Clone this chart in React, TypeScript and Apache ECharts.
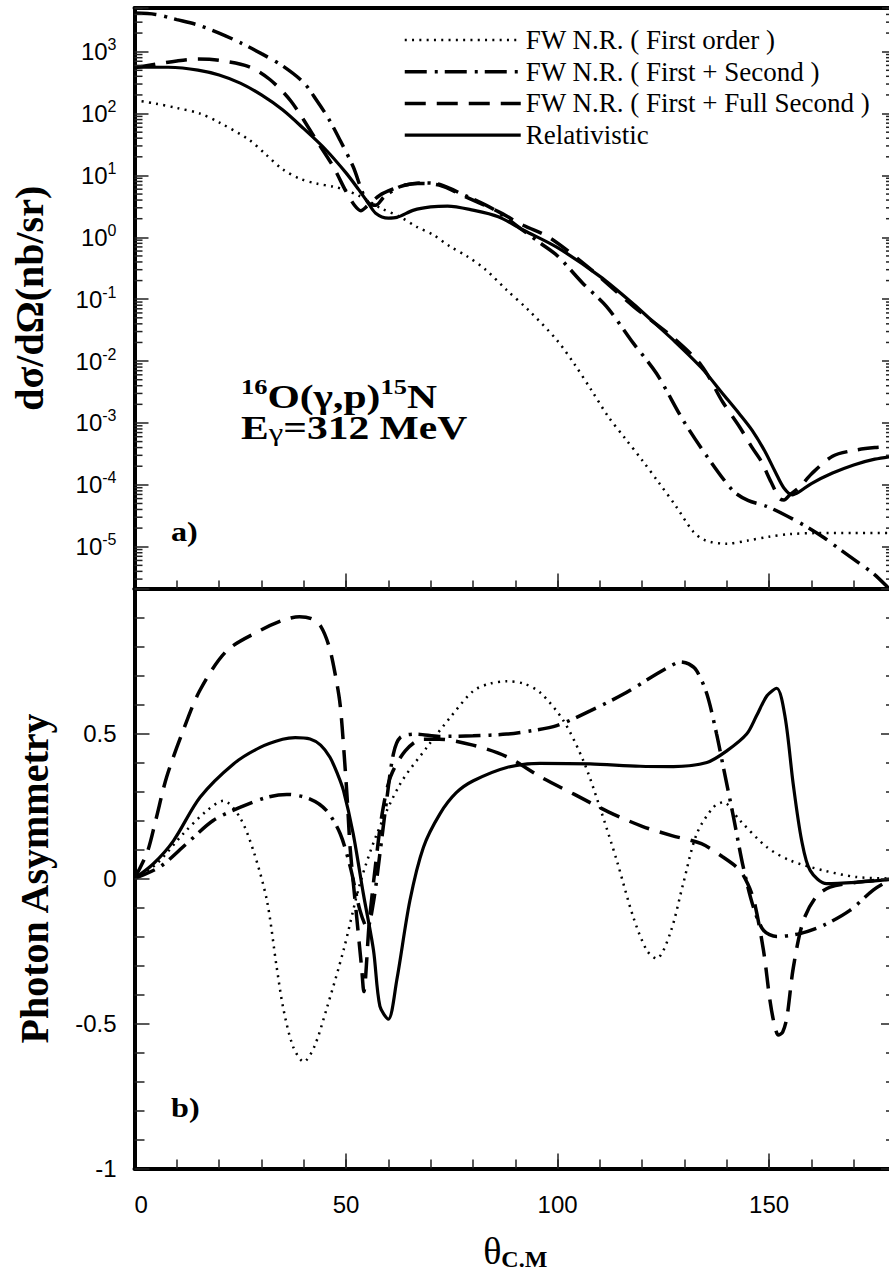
import React, { useEffect, useRef } from "react";
import * as echarts from "echarts";

// ---------- legend / series names ----------
const seriesNames = [
  "FW N.R. ( First order )",
  "FW N.R. ( First + Second )",
  "FW N.R. ( First + Full Second )",
  "Relativistic",
];

// ---------- panel a) differential cross section (nb/sr) ----------
const thetaFirstTop = [0, 5, 10, 15.5, 20, 27, 31, 35, 39, 43, 47, 50, 53, 55, 58, 62.8, 66.7, 70.6, 74.6, 78.5, 83, 88, 93, 99.8, 104, 108, 112, 116, 120, 124, 128, 132, 135, 140, 145, 150, 155, 161, 170, 180];
const sigmaFirst = [165, 145, 123, 100, 72, 38, 22, 12.6, 8.9, 7.4, 6.6, 5.8, 4.7, 4.0, 3.0, 2.14, 1.48, 1.1, 0.71, 0.5, 0.3, 0.14, 0.068, 0.022, 8.9e-3, 3.4e-3, 1.26e-3, 5.6e-4, 2.5e-4, 1.07e-4, 4.5e-5, 1.78e-5, 1.26e-5, 1.12e-5, 1.26e-5, 1.45e-5, 1.6e-5, 1.66e-5, 1.66e-5, 1.66e-5];

const thetaSecTop = [0, 5, 10, 15, 20, 25, 30, 35, 40, 43, 46, 48.6, 51.7, 54, 55.5, 57, 59, 62.8, 68, 72, 78, 85, 92.7, 96, 100, 106, 111.6, 117.9, 123.4, 129.7, 135.3, 141.5, 145, 149.4, 154, 158.9, 163, 166.9, 170.7, 174.6, 177.8, 180];
const sigmaSec = [4200, 4000, 3300, 2700, 2000, 1400, 930, 590, 316, 166, 80, 37, 13.8, 5.1, 3.5, 3.3, 4.5, 6.6, 7.6, 7.2, 4.8, 2.8, 1.17, 0.8, 0.5, 0.18, 0.076, 0.0195, 6.3e-3, 1.1e-3, 2.9e-4, 8e-5, 5.6e-5, 4.5e-5, 3.2e-5, 2.1e-5, 1.4e-5, 8.9e-6, 5.8e-6, 3.7e-6, 2.3e-6, 1.6e-6];

const thetaFullTop = [0, 5, 10, 15, 20, 27, 32, 37, 43, 47, 50, 52, 53.5, 55, 58, 61, 64, 67, 72, 78, 86, 92, 98, 107, 118, 127, 134, 139, 143, 146, 148, 150.5, 152.5, 153.5, 155, 157.3, 160, 165, 170, 175, 180];
const sigmaFull = [550, 630, 710, 760, 725, 575, 355, 158, 37, 13.8, 5.5, 3.3, 2.7, 3.2, 4.8, 6.0, 7.0, 7.4, 7.0, 4.6, 2.6, 1.55, 1.0, 0.34, 0.076, 0.025, 8.5e-3, 2.2e-3, 8.7e-4, 4e-4, 2.5e-4, 1.1e-4, 6e-5, 5.7e-5, 7e-5, 9.3e-5, 1.5e-4, 2.9e-4, 3.6e-4, 4e-4, 4.2e-4];

const thetaRelTop = [0, 8, 15, 20, 25, 30, 35, 40, 45, 50, 53, 55, 57, 60, 62, 66, 70, 74, 80, 86, 92, 100, 110, 118, 122, 127, 134, 139, 143, 146, 149, 151.5, 153.5, 155.5, 157, 160, 165, 170, 175, 180];
const sigmaRel = [565, 560, 505, 420, 310, 200, 115, 57, 27, 11, 5.9, 3.8, 2.46, 2.05, 2.1, 2.75, 3.1, 3.2, 2.75, 2.15, 1.3, 0.68, 0.234, 0.083, 0.047, 0.023, 7.8e-3, 3.0e-3, 1.4e-3, 7.6e-4, 3.5e-4, 1.6e-4, 8.9e-5, 6.9e-5, 7.6e-5, 1.05e-4, 1.55e-4, 2.1e-4, 2.6e-4, 2.95e-4];

// ---------- panel b) photon asymmetry ----------
const thetaFirstBot = [0, 5.2, 11.5, 17.1, 21, 24.9, 28.1, 31.3, 33.6, 35.2, 37.5, 40, 42.5, 45.4, 49.4, 53.3, 57.3, 62.8, 69.1, 74.6, 80.1, 84, 88, 92, 95.9, 101.4, 106.1, 110, 114, 117.9, 121.1, 123.4, 126.6, 129.7, 132.9, 136.8, 139.2, 143.1, 149.5, 155, 162.8, 170.7, 180];
const asymFirst = [0, 0.05, 0.154, 0.234, 0.268, 0.211, 0.096, -0.076, -0.305, -0.45, -0.58, -0.632, -0.58, -0.45, -0.248, -0.018, 0.154, 0.326, 0.452, 0.555, 0.647, 0.672, 0.68, 0.672, 0.641, 0.544, 0.406, 0.245, 0.062, -0.133, -0.248, -0.276, -0.19, -0.018, 0.154, 0.245, 0.263, 0.2, 0.108, 0.062, 0.028, 0.005, 0];

const thetaSecBot = [0, 6, 12.3, 18.6, 24.9, 31.3, 36, 41.5, 45.4, 48.6, 51, 53.3, 55, 56.5, 58, 59.6, 61.2, 62.8, 66.7, 72, 80, 88, 94, 99.8, 107.7, 115.6, 123.4, 127, 129, 131, 132.9, 135.3, 137.6, 139.2, 141.6, 143.9, 146.3, 148.7, 151.8, 157.3, 162.8, 169.1, 174.6, 178, 180];
const asymSec = [0, 0.04, 0.12, 0.2, 0.245, 0.28, 0.29, 0.274, 0.234, 0.155, 0.04, -0.11, -0.17, -0.08, 0.085, 0.27, 0.43, 0.486, 0.498, 0.49, 0.492, 0.498, 0.51, 0.527, 0.578, 0.636, 0.705, 0.735, 0.747, 0.74, 0.716, 0.636, 0.498, 0.383, 0.211, 0.039, -0.099, -0.179, -0.2, -0.19, -0.162, -0.11, -0.04, -0.01, 0];

const thetaFullBot = [0, 3, 5, 7.6, 11.5, 15.5, 21.8, 29.7, 35, 39, 42, 44, 46, 47.5, 48.6, 49.5, 50.3, 51, 52.5, 53.7, 54.2, 55.5, 57, 58.5, 60.5, 64, 68, 72, 80, 88, 96, 104, 112, 120, 127, 134, 139, 143, 145, 146.5, 148.7, 150.2, 151.2, 152.2, 153.2, 154.2, 155.7, 158, 161, 164.4, 170.7, 175, 180];
const asymFull = [0, 0.09, 0.2, 0.35, 0.51, 0.65, 0.785, 0.855, 0.89, 0.903, 0.895, 0.87, 0.8, 0.7, 0.6, 0.44, 0.27, 0.1, -0.13, -0.31, -0.39, -0.15, 0.05, 0.22, 0.35, 0.44, 0.48, 0.48, 0.46, 0.42, 0.35, 0.29, 0.23, 0.18, 0.148, 0.12, 0.075, 0.03, -0.02, -0.08, -0.25, -0.42, -0.5, -0.54, -0.53, -0.48, -0.31, -0.15, -0.065, -0.03, -0.013, -0.007, 0];

const thetaRelBot = [0, 4.4, 9.2, 15.5, 23.4, 29.7, 35, 38, 41.5, 44, 46.2, 48, 49.4, 51.7, 54.1, 56.5, 58, 60, 62, 65.1, 68.3, 72.2, 76, 80.1, 88, 95.9, 107.7, 119.5, 127.4, 135.3, 140, 144.7, 147, 149.5, 151.8, 153.8, 155.7, 157.7, 159.7, 163.6, 170.7, 178.2, 180];
const asymRel = [0, 0.05, 0.13, 0.28, 0.395, 0.452, 0.48, 0.486, 0.481, 0.46, 0.418, 0.36, 0.303, 0.154, -0.053, -0.248, -0.44, -0.485, -0.35, -0.076, 0.108, 0.223, 0.295, 0.337, 0.383, 0.397, 0.395, 0.387, 0.386, 0.4, 0.44, 0.498, 0.56, 0.63, 0.656, 0.555, 0.326, 0.131, 0.028, -0.018, -0.013, -0.004, 0];

// ---------- axes ----------
const thetaMin = 0;
const thetaMax = 180;
const logMin = -5.675; // log10 of lower edge of panel a)
const logMax = 3.706; // log10 of upper edge of panel a)
const asymMin = -1;
const asymMax = 1;
const minorDecades = [-6, -5, -4, -3, -2, -1, 0, 1, 2, 3];
const minorMultipliers = [2, 3, 4, 5, 6, 7, 8, 9];

const SANS = '"Liberation Sans", Arial, sans-serif';
const SERIF = '"Liberation Serif", "Times New Roman", serif';
const INK = "#000";
const TICK = "#222";
const TICK_W = 1.5;

const lineStyles = [
  { type: [2, 5.3], width: 2.5 },
  { type: [22, 8, 3, 7], width: 3.5 },
  { type: [21, 11], width: 3.5 },
  { type: "solid", width: 3.2 },
];

const topSets = [
  [thetaFirstTop, sigmaFirst],
  [thetaSecTop, sigmaSec],
  [thetaFullTop, sigmaFull],
  [thetaRelTop, sigmaRel],
];
const botSets = [
  [thetaFirstBot, asymFirst],
  [thetaSecBot, asymSec],
  [thetaFullBot, asymFull],
  [thetaRelBot, asymRel],
];

function buildOption() {
  // log-decade minor tick positions for panel a)
  const minorTickData: number[][] = [];
  minorDecades.forEach((n) =>
    minorMultipliers.forEach((k) => {
      const v = Math.log10(k) + n;
      if (v > logMin && v < logMax) minorTickData.push([thetaMin, v]);
    })
  );

  const frame = () => ({ show: true, onZero: false, lineStyle: { color: INK, width: 4 } });
  const tickStyle = () => ({ color: TICK, width: TICK_W });
  const noTick = { show: false };
  const noLabel = { show: false };

  const xBase = { type: "value", min: thetaMin, max: thetaMax, splitLine: { show: false } };

  const xAxis = [
    // 0: panel a) bottom frame + minor ticks (series axis)
    { ...xBase, gridIndex: 0, position: "bottom", interval: 10, axisLine: frame(), axisTick: { show: true, inside: true, length: 8, lineStyle: tickStyle() }, axisLabel: noLabel },
    // 1: panel a) top frame
    { ...xBase, gridIndex: 0, position: "top", interval: 50, axisLine: frame(), axisTick: noTick, axisLabel: noLabel },
    // 2: panel b) bottom frame + minor ticks (series axis)
    { ...xBase, gridIndex: 1, position: "bottom", interval: 10, axisLine: frame(), axisTick: { show: true, inside: true, length: 9, lineStyle: tickStyle() }, axisLabel: noLabel },
    // 3: panel b) top frame
    { ...xBase, gridIndex: 1, position: "top", interval: 50, axisLine: frame(), axisTick: noTick, axisLabel: noLabel },
    // 4: panel a) major ticks
    { ...xBase, gridIndex: 0, position: "bottom", interval: 50, axisLine: { show: false, onZero: false }, axisTick: { show: true, inside: true, length: 15, lineStyle: tickStyle() }, axisLabel: noLabel },
    // 5: panel b) major ticks, labels and name
    {
      ...xBase,
      gridIndex: 1,
      position: "bottom",
      interval: 50,
      axisLine: { show: false, onZero: false },
      axisTick: { show: true, inside: true, length: 15, lineStyle: tickStyle() },
      axisLabel: {
        show: true,
        margin: 24,
        alignMinLabel: "left",
        fontFamily: SANS,
        fontSize: 24,
        lineHeight: 24,
        color: INK,
        formatter: (v: number) => (v % 50 === 0 && v < thetaMax ? String(v) : ""),
      },
      name: "{t|θ}{s|C.M}",
      nameLocation: "middle",
      nameGap: 62,
      nameTextStyle: {
        rich: {
          t: { fontFamily: SERIF, fontSize: 38, lineHeight: 40, color: INK },
          s: { fontFamily: SERIF, fontWeight: "bold", fontSize: 24, lineHeight: 24, verticalAlign: "bottom", color: INK },
        },
      },
    },
  ];

  const yTop = { type: "value", gridIndex: 0, min: logMin, max: logMax, splitNumber: 9, splitLine: { show: false } };
  const yBot = { type: "value", gridIndex: 1, min: asymMin, max: asymMax, interval: 0.5, splitLine: { show: false } };

  const yAxis = [
    // 0: panel a) left frame, ticks, labels, name (series axis)
    {
      ...yTop,
      position: "left",
      z: 10,
      axisLine: frame(),
      axisTick: { show: true, inside: true, length: 14, lineStyle: tickStyle() },
      axisLabel: {
        show: true,
        margin: 18,
        formatter: (v: number) => {
          const n = Math.round(v);
          if (Math.abs(v - n) > 1e-6) return "";
          return `{a|10}{b|${n}}`;
        },
        rich: {
          a: { fontFamily: SANS, fontSize: 24, lineHeight: 30, color: INK },
          b: { fontFamily: SANS, fontSize: 16, lineHeight: 14, verticalAlign: "top", color: INK },
        },
      },
      name: "dσ/dΩ(nb/sr)",
      nameLocation: "middle",
      nameRotate: 90,
      nameGap: 85,
      nameTextStyle: { fontFamily: SERIF, fontWeight: "bold", fontSize: 40, lineHeight: 40, color: INK },
    },
    // 1: panel a) right frame + ticks
    { ...yTop, position: "right", z: 10, axisLine: frame(), axisTick: { show: true, inside: true, length: 14, lineStyle: tickStyle() }, axisLabel: noLabel },
    // 2: panel b) left frame, ticks, labels, name (series axis)
    {
      ...yBot,
      position: "left",
      z: 10,
      axisLine: frame(),
      axisTick: { show: true, inside: true, length: 15, lineStyle: tickStyle() },
      minorTick: { show: true, splitNumber: 5, length: 10, lineStyle: tickStyle() },
      axisLabel: {
        show: true,
        margin: 18,
        fontFamily: SANS,
        fontSize: 24,
        color: INK,
        formatter: (v: number) => (v >= asymMax ? "" : String(v)),
      },
      name: "Photon Asymmetry",
      nameLocation: "middle",
      nameRotate: 90,
      nameGap: 80,
      nameTextStyle: { fontFamily: SERIF, fontWeight: "bold", fontSize: 40, lineHeight: 40, color: INK },
    },
    // 3: panel b) right frame + ticks
    {
      ...yBot,
      position: "right",
      z: 10,
      axisLine: frame(),
      axisTick: { show: true, inside: true, length: 15, lineStyle: tickStyle() },
      minorTick: { show: true, splitNumber: 5, length: 10, lineStyle: tickStyle() },
      axisLabel: noLabel,
    },
  ];

  const series: any[] = [];
  seriesNames.forEach((name, i) => {
    const [xs, ys] = topSets[i];
    series.push({
      type: "line",
      name,
      xAxisIndex: 0,
      yAxisIndex: 0,
      data: xs.map((x, j) => [x, Math.log10(ys[j])]),
      symbol: "none",
      smooth: 0.3,
      clip: true,
      lineStyle: { color: INK, ...lineStyles[i] },
      itemStyle: { color: INK },
      z: 5,
    });
  });
  seriesNames.forEach((name, i) => {
    const [xs, ys] = botSets[i];
    series.push({
      type: "line",
      name,
      xAxisIndex: 2,
      yAxisIndex: 2,
      data: xs.map((x, j) => [x, ys[j]]),
      symbol: "none",
      smooth: 0.3,
      clip: true,
      lineStyle: { color: INK, ...lineStyles[i] },
      itemStyle: { color: INK },
      z: 5,
    });
  });

  // log-scale minor ticks on both vertical edges of panel a)
  series.push({
    type: "custom",
    name: "minor-ticks",
    coordinateSystem: "cartesian2d",
    xAxisIndex: 0,
    yAxisIndex: 0,
    silent: true,
    clip: false,
    encode: { x: 0, y: 1 },
    data: minorTickData,
    z: 20,
    renderItem: (_params: any, api: any) => {
      const l = api.coord([thetaMin, api.value(1)]);
      const r = api.coord([thetaMax, api.value(1)]);
      const st = { stroke: TICK, lineWidth: TICK_W };
      return {
        type: "group",
        children: [
          { type: "line", shape: { x1: l[0], y1: l[1], x2: l[0] + 8, y2: l[1] }, style: st },
          { type: "line", shape: { x1: r[0] - 10, y1: r[1], x2: r[0], y2: r[1] }, style: st },
        ],
      };
    },
  });

  const graphic = [
    {
      type: "group",
      x: 241,
      y: 376.5,
      scaleX: 1.26,
      children: [
        {
          type: "text",
          style: {
            text: "{sup|16}{m|O(γ,p)}{sup|15}{m|N}",
            align: "left",
            verticalAlign: "top",
            rich: {
              m: { fontFamily: SERIF, fontWeight: "bold", fontSize: 33, lineHeight: 42, fill: INK },
              sup: { fontFamily: SERIF, fontWeight: "bold", fontSize: 21, lineHeight: 21, verticalAlign: "top", fill: INK },
            },
          },
        },
      ],
    },
    {
      type: "group",
      x: 241,
      y: 411.3,
      scaleX: 1.26,
      children: [
        {
          type: "text",
          style: {
            text: "{m|E}{sub|γ}{m|=312 MeV}",
            align: "left",
            verticalAlign: "top",
            rich: {
              m: { fontFamily: SERIF, fontWeight: "bold", fontSize: 33, lineHeight: 34, fill: INK },
              sub: { fontFamily: SERIF, fontSize: 26, lineHeight: 20, verticalAlign: "bottom", fill: INK },
            },
          },
        },
      ],
    },
    {
      type: "text",
      x: 171,
      y: 532,
      scaleX: 1.15,
      style: { text: "a)", fontFamily: SERIF, fontWeight: "bold", fontSize: 28, fill: INK, align: "left", verticalAlign: "middle" },
    },
    {
      type: "text",
      x: 171,
      y: 1108,
      scaleX: 1.15,
      style: { text: "b)", fontFamily: SERIF, fontWeight: "bold", fontSize: 28, fill: INK, align: "left", verticalAlign: "middle" },
    },
  ];

  return {
    animation: false,
    backgroundColor: "#fff",
    grid: [
      { left: 134.5, right: 4, top: 8, height: 580.5 },
      { left: 134.5, right: 4, top: 588.5, height: 580 },
    ],
    legend: {
      data: seriesNames,
      orient: "vertical",
      left: 398,
      top: 21.5,
      itemWidth: 116,
      itemHeight: 14,
      itemGap: 4.7,
      selectedMode: false,
      itemStyle: { opacity: 0 },
      lineStyle: { width: "inherit" },
      textStyle: { fontFamily: SERIF, fontSize: 27, lineHeight: 27, color: INK },
    },
    xAxis,
    yAxis,
    series,
    graphic,
  };
}

export default function App() {
  const ref = useRef<HTMLDivElement>(null);
  useEffect(() => {
    if (!ref.current) return;
    const chart = echarts.init(ref.current, null, { renderer: "svg" });
    chart.setOption(buildOption() as any);
    return () => chart.dispose();
  }, []);
  return (
    <div style={{ position: "absolute", left: 0, top: 0, width: 889, height: 1276, overflow: "hidden", background: "#fff" }}>
      <div ref={ref} style={{ width: 900, height: 1276 }} />
    </div>
  );
}
